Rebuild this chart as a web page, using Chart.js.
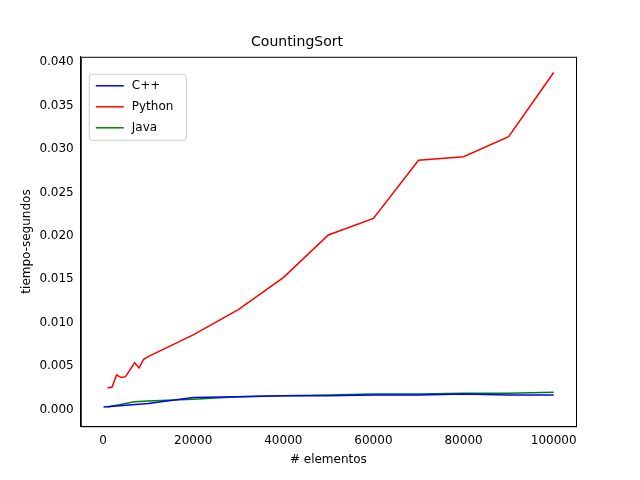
<!DOCTYPE html>
<html><head><meta charset="utf-8">
<script src="https://cdn.jsdelivr.net/npm/chart.js@4"></script>
<style>body{margin:0;background:#fff}#w{width:640px;height:480px}</style>
</head><body><div id="w"><canvas id="c" width="640" height="480"></canvas></div>
<script>
const sizes = [1000,2000,3000,4000,5000,6000,7000,8000,9000,10000,20000,30000,40000,50000,60000,70000,80000,90000,100000];
const cppX = [100,10000,20000,30000,40000,50000,60000,70000,80000,90000,100000];
const cppY = [0.0003,0.0007,0.0014,0.0015,0.0016,0.0016,0.0017,0.0017,0.0018,0.0017,0.0017];
const pyY = [0.0025,0.0026,0.0040,0.0037,0.0038,0.0046,0.0054,0.0048,0.0058,0.0061,0.0086,0.0115,0.0152,0.0201,0.0220,0.0287,0.0291,0.0314,0.0388];
const javaX = [1000,3000,5000,7000,10000,20000,30000,40000,50000,60000,70000,80000,90000,100000];
const javaY = [0.0003,0.0005,0.0007,0.0009,0.0010,0.0012,0.0015,0.0016,0.0017,0.0018,0.0018,0.0019,0.0019,0.0020];
const xTicks = [0,20000,40000,60000,80000,100000];

const pts = (xs, ys) => xs.map((x, i) => ({x: x, y: ys[i]}));
const font = {family: 'DejaVu Sans', size: 12};
Chart.defaults.font = font;
Chart.defaults.color = '#000';

// leyenda dibujada a mano dentro del área del gráfico
const boxLegend = {id: 'boxLegend', afterDraw(ch) {
  const a = ch.chartArea, g = ch.ctx;
  g.save();
  g.strokeStyle = '#000'; g.lineWidth = 1;
  g.strokeRect(a.left + 0.5, a.top + 0.5, a.right - a.left, a.bottom - a.top);
  const x0 = a.left + 8, y0 = a.top + 17;
  g.fillStyle = '#fff'; g.strokeStyle = '#ccc';
  g.beginPath(); g.roundRect(x0 + 0.5, y0 + 0.5, 97, 66, 3); g.fill(); g.stroke();
  g.font = '12px DejaVu Sans'; g.textBaseline = 'middle';
  ch.data.datasets.forEach((d, i) => {
    const y = y0 + 12 + i * 21;
    g.strokeStyle = d.borderColor; g.lineWidth = 1.5;
    g.beginPath(); g.moveTo(x0 + 7, y); g.lineTo(x0 + 35, y); g.stroke();
    g.fillStyle = '#000'; g.fillText(d.label, x0 + 43, y);
  });
  g.restore();
}};

new Chart(document.getElementById('c'), {
  type: 'line',
  data: {datasets: [
    {label: 'C++', data: pts(cppX, cppY), borderColor: '#0000ff', backgroundColor: '#0000ff'},
    {label: 'Python', data: pts(sizes, pyY), borderColor: '#ff0000', backgroundColor: '#ff0000'},
    {label: 'Java', data: pts(javaX, javaY), borderColor: '#008000', backgroundColor: '#008000'}
  ]},
  options: {
    responsive: false, animation: false,
    elements: {point: {radius: 0}, line: {borderWidth: 1.5, tension: 0}},
    layout: {padding: {left: 18, right: 64, top: 0, bottom: 11}},
    plugins: {
      title: {display: true, text: 'CountingSort', font: {family: 'DejaVu Sans', size: 14, weight: 'normal'}, padding: {top: 34, bottom: 6}},
      legend: {display: false},
      tooltip: {enabled: false}
    },
    scales: {
      x: {type: 'linear', min: -4950, max: 104950,
        afterBuildTicks: a => { a.ticks = xTicks.map(v => ({value: v})); },
        ticks: {callback: v => String(v)},
        grid: {display: false, tickLength: 4},
        border: {color: '#000'},
        title: {display: true, text: '# elementos', padding: 2}},
      y: {min: -0.0019, max: 0.0406,
        afterBuildTicks: a => { a.ticks = [0,0.005,0.01,0.015,0.02,0.025,0.03,0.035,0.04].map(v => ({value: v})); },
        ticks: {callback: v => v.toFixed(3)},
        grid: {display: false, tickLength: 4},
        border: {color: '#000'},
        title: {display: true, text: 'tiempo-segundos', padding: 2}}
    }
  },
  plugins: [boxLegend]
});
</script></body></html>
